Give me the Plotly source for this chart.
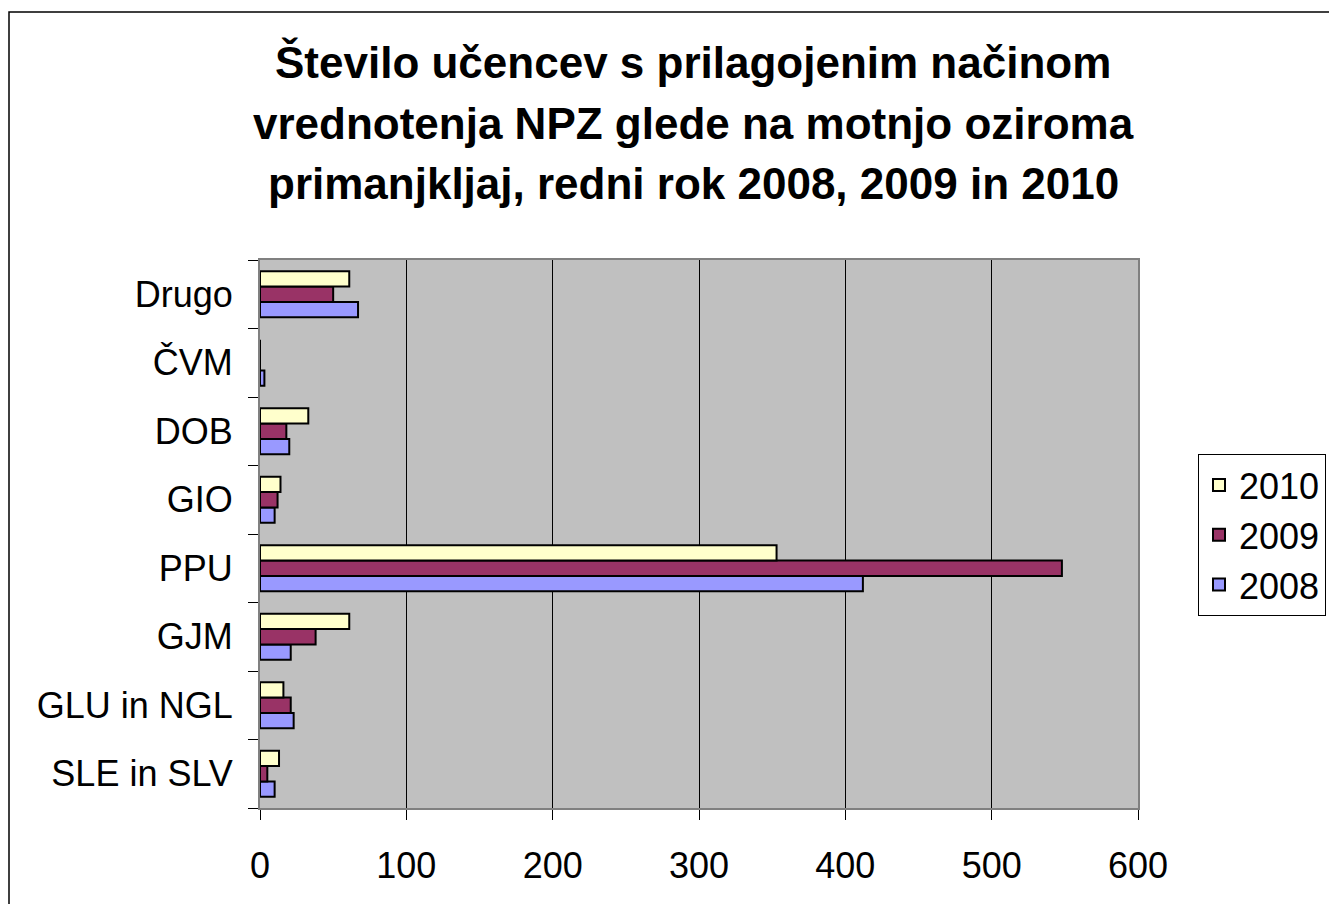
import plotly.graph_objects as go

categories = ["SLE in SLV", "GLU in NGL", "GJM", "PPU", "GIO", "DOB", "ČVM", "Drugo"]
v2008 = [10, 23, 21, 412, 10, 20, 3, 67]
v2009 = [5, 21, 38, 548, 12, 18, 0, 50]
v2010 = [13, 16, 61, 353, 14, 33, 0, 61]
x_ticks = [0, 100, 200, 300, 400, 500, 600]
title_lines = ["Število učencev s prilagojenim načinom",
               "vrednotenja NPZ glede na motnjo oziroma",
               "primanjkljaj, redni rok 2008, 2009 in 2010"]

W, H = 1329, 904
L, R, T, B = 260, 1138, 260, 808

fig = go.Figure()
for name, vals, col in [("2008", v2008, "#9999FF"), ("2009", v2009, "#993366"), ("2010", v2010, "#FFFFCC")]:
    fig.add_trace(go.Bar(y=categories, x=vals, name=name, orientation="h",
                         marker=dict(color=col, line=dict(color="black", width=2))))

pw, ph = R - L, B - T
def px(x): return (x - L) / pw
def py(y): return (B - y) / ph

title_ys = [62, 123, 183]
annotations = [dict(text=t, xref="paper", yref="paper", x=px(693), y=py(yc),
                    xanchor="center", yanchor="middle", showarrow=False,
                    font=dict(size=44, family="Liberation Sans, Arial", color="black", weight="bold"))
               for t, yc in zip(title_lines, title_ys)]

fig.update_layout(
    width=W, height=H,
    margin=dict(l=L, r=W - R, t=T, b=H - B, pad=0, autoexpand=False),
    paper_bgcolor="white", plot_bgcolor="#C0C0C0",
    barmode="group", bargap=0.33, bargroupgap=0,
    font=dict(family="Liberation Sans, Arial", color="black", size=36),
    legend=dict(x=px(1198), y=py(454), xanchor="left", yanchor="top", traceorder="reversed",
                bgcolor="white", bordercolor="black", borderwidth=1,
                font=dict(size=36), itemsizing="constant", tracegroupgap=0),
    xaxis=dict(range=[0, 600], tickvals=x_ticks, showgrid=True, gridcolor="black", gridwidth=1,
               ticks="outside", ticklen=10, tickcolor="black", showline=True, linecolor="#808080",
               linewidth=2, mirror=True, zeroline=False, tickfont=dict(size=36), ticklabelstandoff=15),
    yaxis=dict(ticks="outside", tickson="boundaries", ticklen=10, tickcolor="black",
               showline=True, linecolor="#808080", linewidth=2, mirror=True, showgrid=False,
               tickfont=dict(size=36), ticklabelstandoff=18),
    annotations=annotations,
    shapes=[dict(type="rect", xref="paper", yref="paper",
                 x0=px(9), x1=px(1340), y0=py(915), y1=py(12),
                 line=dict(color="black", width=1.5), layer="below")],
)

fig.write_html("out.html", config={"displayModeBar": False},
               post_script="document.body.style.margin='0';document.body.style.overflow='hidden';")
